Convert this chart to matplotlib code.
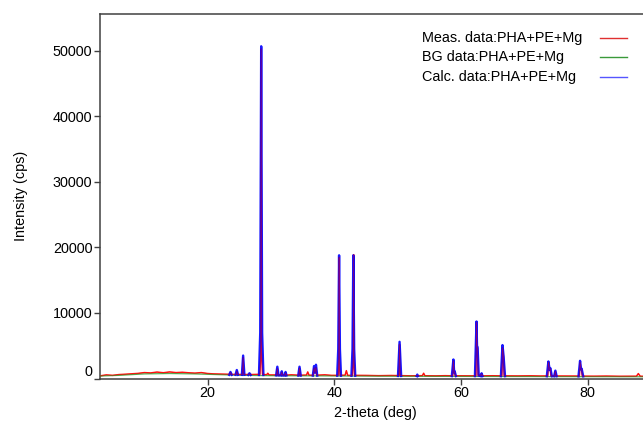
import matplotlib
matplotlib.use('Agg')
import matplotlib.pyplot as plt
from matplotlib.lines import Line2D

plt.rcParams['font.family'] = ['Liberation Sans', 'DejaVu Sans']

# Calculated pattern (2-theta, cps).
# Only the peak regions show in the original (baseline hidden under the measured trace),
# None separates the peak groups.
calc_x = [23.4, 23.6, 23.8, None, 24.4, 24.6, 24.8, None, 25.4, 25.6, 25.8, None,
          26.4, 26.6, 26.8, None,
          28.1, 28.3, 28.45, 28.6, 28.8, None,
          30.8, 31.0, 31.2, None, 31.55, 31.7, 31.85, None, 32.15, 32.3, 32.45, None,
          34.3, 34.5, 34.7, None, 36.6, 36.8, 36.95, 37.1, 37.3, None,
          40.45, 40.62, 40.75, 40.88, 41.05, None,
          42.7, 42.87, 43.0, 43.13, 43.3, None,
          50.05, 50.3, 50.55, None, 53.0, 53.1, 53.2, None,
          58.55, 58.8, 58.92, 59.0, 59.2, None,
          62.2, 62.45, 62.53, 62.62, 62.8, None, 63.1, 63.25, 63.4, None,
          66.3, 66.55, 66.72, 66.95, None,
          73.55, 73.8, 74.0, 74.1, 74.35, None, 74.7, 74.9, 75.1, None,
          78.55, 78.8, 78.95, 79.05, 79.3]
calc_y = [560, 1000, 560, None, 560, 1300, 560, None, 560, 3500, 560, None,
          540, 800, 540, None,
          540, 7000, 50700, 7000, 540, None,
          480, 1800, 480, None, 480, 1100, 480, None, 470, 1000, 470, None,
          450, 1800, 450, None, 440, 1900, 900, 2100, 440, None,
          430, 4500, 18800, 4500, 430, None,
          420, 4500, 18800, 4500, 420, None,
          390, 5600, 390, None, 380, 600, 380, None,
          370, 2900, 900, 1100, 370, None,
          370, 8700, 4900, 4800, 450, None, 370, 800, 370, None,
          360, 5100, 3400, 360, None,
          350, 2600, 1300, 1600, 350, None, 350, 1200, 350, None,
          330, 2700, 1400, 1500, 330]

# Measured pattern
meas_x = [3, 4, 5, 6, 7, 8, 9, 10, 11, 12, 13, 14, 15, 16, 17, 18, 19, 20, 21, 22,
          23.5, 23.6, 23.7, 24.5, 24.6, 24.7, 25.5, 25.6, 25.7, 26.5, 26.6, 26.7,
          28.25, 28.38, 28.45, 28.52, 28.65, 29.3, 29.5, 29.7,
          30.9, 31.0, 31.1, 31.6, 31.7, 31.8, 32.2, 32.3, 32.4, 33.2,
          34.4, 34.5, 34.6, 35.6, 35.8, 36.0, 36.7, 36.8, 36.95, 37.1, 37.2, 38.5, 39.5,
          40.6, 40.7, 40.75, 40.8, 40.9, 41.7, 41.9, 42.1,
          42.85, 42.98, 43.05, 43.1, 43.2, 45, 47, 49,
          50.2, 50.3, 50.4, 52, 53.9, 54.1, 54.3, 56, 57.5,
          58.7, 58.8, 58.92, 59.0, 59.1, 60.5,
          62.35, 62.45, 62.53, 62.62, 62.7, 63.1, 63.25, 63.4, 65,
          66.45, 66.55, 66.72, 66.82, 69, 71, 72.5,
          73.7, 73.8, 74.0, 74.1, 74.2, 74.8, 74.9, 75.0, 77,
          78.7, 78.8, 78.95, 79.05, 79.15, 81, 83, 85, 87.7, 88.0, 88.3, 90]
meas_y = [400, 550, 480, 600, 650, 720, 780, 900, 850, 980, 880, 1000, 900, 950, 870, 820, 900, 760, 700, 680,
          640, 900, 620, 630, 1100, 610, 620, 3200, 620, 600, 700, 600,
          640, 4000, 50300, 4000, 650, 560, 800, 540,
          540, 1500, 520, 540, 950, 520, 520, 850, 510, 560,
          500, 1600, 500, 520, 1000, 500, 500, 1600, 900, 1700, 500, 560, 480,
          480, 3000, 18500, 3000, 500, 500, 1200, 480,
          470, 3000, 18900, 3000, 480, 470, 430, 460,
          440, 5200, 440, 410, 430, 800, 420, 400, 430,
          410, 2700, 900, 1000, 410, 400,
          400, 8600, 4800, 4600, 500, 410, 700, 400, 420,
          400, 4700, 3200, 400, 390, 410, 380,
          390, 2500, 1300, 1500, 380, 380, 1100, 380, 370,
          370, 2500, 1400, 1400, 360, 350, 370, 340, 350, 750, 340, 330]

# Background
bg_x = [3, 6, 10, 14, 18, 22, 26, 30, 35, 40, 45, 50, 55, 60, 65, 70, 75, 80, 85, 90]
bg_y = [380, 480, 700, 760, 700, 580, 480, 430, 410, 390, 370, 350, 330, 320, 310, 300, 290, 280, 270, 260]

labels = ['Meas. data:PHA+PE+Mg', 'BG data:PHA+PE+Mg', 'Calc. data:PHA+PE+Mg']
colors = ['#ff0000', '#2e9a2e', '#0000ff']
legend_colors = ['#e03030', '#3a9a3a', '#5555ff']

fig = plt.figure(figsize=(6.43, 4.21), dpi=100)
ax = fig.add_axes([100 / 643, 42.5 / 421, 551 / 643, 365 / 421])

ax.plot(meas_x, meas_y, color=colors[0], lw=1.1, alpha=0.9, zorder=2)
ax.plot(bg_x, bg_y, color=colors[1], lw=0.9, alpha=0.8, zorder=3)
ax.plot(calc_x, calc_y, color=colors[2], lw=1.7, alpha=0.9, zorder=4)
ax.plot(meas_x, meas_y, color=colors[0], lw=0.5, alpha=0.5, zorder=5)

ax.set_xlim(3, 90)
ax.set_ylim(0, 55700)
ax.set_xticks([20, 40, 60, 80])
ax.set_yticks([0, 10000, 20000, 30000, 40000, 50000])
ax.tick_params(direction='out', length=4, width=1, color='#404040', labelsize=10.4, pad=1.5)
for s in ax.spines.values():
    s.set_color('#404040')
    s.set_linewidth(1.1)
ax.get_yticklabels()[0].set_va('bottom')

ax.set_xlabel('2-theta (deg)', fontsize=10.4, labelpad=4)
ax.set_ylabel('Intensity (cps)', fontsize=10.4, labelpad=18)

# legend: text left, sample line right
for i, (lab, c) in enumerate(zip(labels, legend_colors)):
    yy = 1 - (38 + 19.3 * i) / 421
    fig.text(421.5 / 643, yy, lab, fontsize=10.4, ha='left', va='center')
    fig.add_artist(Line2D([600 / 643, 627 / 643], [yy, yy], color=c, lw=1.0,
                          transform=fig.transFigure))

fig.savefig('out.png', dpi=100)
